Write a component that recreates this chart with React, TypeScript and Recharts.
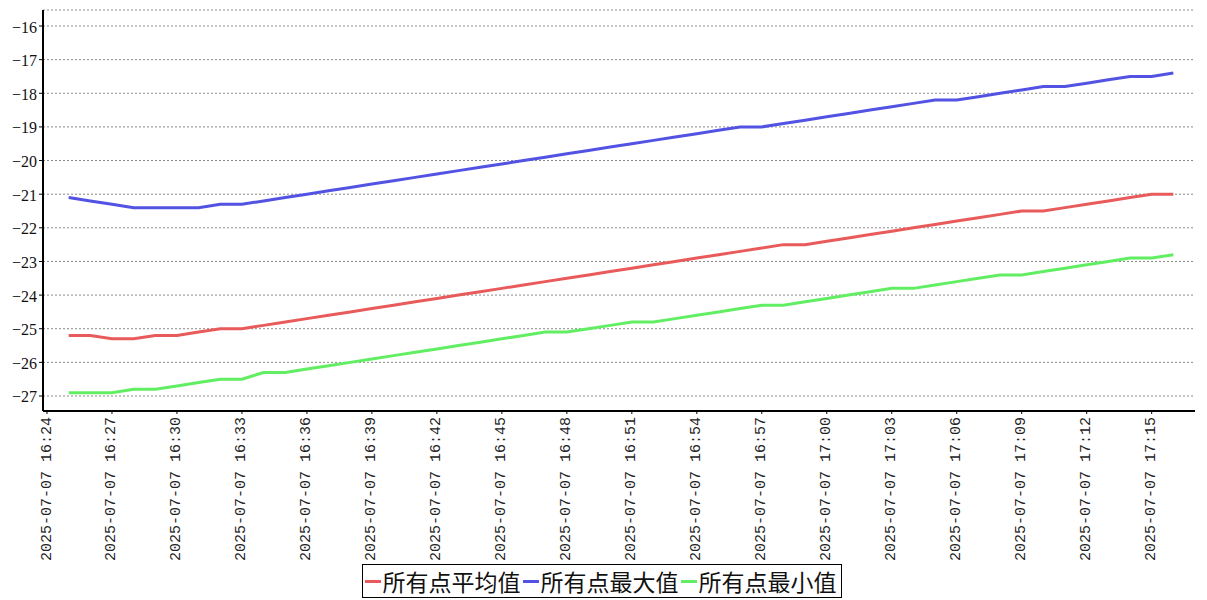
import React from "react";
import { LineChart, Line, XAxis, YAxis, CartesianGrid, Legend } from "recharts";

const DATE = "2025-07-07";
const times = [
  "16:25","16:26","16:27","16:28","16:29","16:30","16:31","16:32","16:33","16:34",
  "16:35","16:36","16:37","16:38","16:39","16:40","16:41","16:42","16:43","16:44",
  "16:45","16:46","16:47","16:48","16:49","16:50","16:51","16:52","16:53","16:54",
  "16:55","16:56","16:57","16:58","16:59","17:00","17:01","17:02","17:03","17:04",
  "17:05","17:06","17:07","17:08","17:09","17:10","17:11","17:12","17:13","17:14",
  "17:15","17:16",
];
const avgValues = [
  -25.2,-25.2,-25.3,-25.3,-25.2,-25.2,-25.1,-25.0,-25.0,-24.9,
  -24.8,-24.7,-24.6,-24.5,-24.4,-24.3,-24.2,-24.1,-24.0,-23.9,
  -23.8,-23.7,-23.6,-23.5,-23.4,-23.3,-23.2,-23.1,-23.0,-22.9,
  -22.8,-22.7,-22.6,-22.5,-22.5,-22.4,-22.3,-22.2,-22.1,-22.0,
  -21.9,-21.8,-21.7,-21.6,-21.5,-21.5,-21.4,-21.3,-21.2,-21.1,
  -21.0,-21.0,
];
const maxValues = [
  -21.1,-21.2,-21.3,-21.4,-21.4,-21.4,-21.4,-21.3,-21.3,-21.2,
  -21.1,-21.0,-20.9,-20.8,-20.7,-20.6,-20.5,-20.4,-20.3,-20.2,
  -20.1,-20.0,-19.9,-19.8,-19.7,-19.6,-19.5,-19.4,-19.3,-19.2,
  -19.1,-19.0,-19.0,-18.9,-18.8,-18.7,-18.6,-18.5,-18.4,-18.3,
  -18.2,-18.2,-18.1,-18.0,-17.9,-17.8,-17.8,-17.7,-17.6,-17.5,
  -17.5,-17.4,
];
const minValues = [
  -26.9,-26.9,-26.9,-26.8,-26.8,-26.7,-26.6,-26.5,-26.5,-26.3,
  -26.3,-26.2,-26.1,-26.0,-25.9,-25.8,-25.7,-25.6,-25.5,-25.4,
  -25.3,-25.2,-25.1,-25.1,-25.0,-24.9,-24.8,-24.8,-24.7,-24.6,
  -24.5,-24.4,-24.3,-24.3,-24.2,-24.1,-24.0,-23.9,-23.8,-23.8,
  -23.7,-23.6,-23.5,-23.4,-23.4,-23.3,-23.2,-23.1,-23.0,-22.9,
  -22.9,-22.8,
];
const tickTimes = [
  "16:24","16:27","16:30","16:33","16:36","16:39","16:42","16:45","16:48",
  "16:51","16:54","16:57","17:00","17:03","17:06","17:09","17:12","17:15",
];
const yTicks = [-16,-17,-18,-19,-20,-21,-22,-23,-24,-25,-26,-27];
const axisStart = "16:24";
const axisEnd = "17:17";

const series = [
  { key: "avg", name: "所有点平均值", color: "#e95b5b" },
  { key: "max", name: "所有点最大值", color: "#5353e3" },
  { key: "min", name: "所有点最小值", color: "#62ee62" },
];

const toMin = (t: string) => {
  const [h, m] = t.split(":").map(Number);
  return h * 60 + m;
};
const minToLabel: Record<number, string> = {};
tickTimes.forEach((t) => (minToLabel[toMin(t)] = `${DATE} ${t}`));

const data = times.map((t, i) => ({
  t: toMin(t),
  avg: avgValues[i],
  max: maxValues[i],
  min: minValues[i],
}));

const XTick = (props: any) => {
  const { x, y, payload } = props;
  const yy = y + 1;
  return (
    <text
      x={x}
      y={yy}
      transform={`rotate(-90 ${x} ${yy})`}
      textAnchor="end"
      dominantBaseline="central"
      style={{ fontFamily: "'Liberation Mono', monospace", fontSize: 15 }}
      fill="#222"
    >
      {minToLabel[payload.value]}
    </text>
  );
};

const YTick = (props: any) => {
  const { x, y, payload } = props;
  const v = payload.value as number;
  const label = v < 0 ? "\u2212" + Math.abs(v) : String(v);
  return (
    <text
      x={x}
      y={y + 1}
      textAnchor="end"
      dominantBaseline="central"
      style={{ fontFamily: "'Liberation Serif', serif", fontSize: 16 }}
      fill="#111"
    >
      {label}
    </text>
  );
};

const LegendBox = () => (
  <div style={{ display: "flex", justifyContent: "center", paddingLeft: 8 }}>
    <div
      style={{
        border: "1px solid #000",
        height: 32,
        display: "flex",
        alignItems: "center",
        padding: "0 2px",
        fontFamily: "'Noto Sans CJK SC'",
        fontSize: 23,
        color: "#111",
        lineHeight: "32px",
        background: "#fff",
      }}
    >
      {series.map((s) => (
        <div key={s.key} style={{ display: "flex", alignItems: "center", marginRight: 2 }}>
          <span
            style={{
              display: "inline-block",
              width: 16,
              height: 3,
              background: s.color,
              marginRight: 2,
            }}
          />
          <span>{s.name}</span>
        </div>
      ))}
    </div>
  </div>
);

export default function App() {
  return (
    <div style={{ position: "absolute", left: 0, top: 0, background: "#fff" }}>
      <LineChart
        width={1207}
        height={600}
        data={data}
        margin={{ top: 10, right: 12, left: 0, bottom: 2 }}
      >
        <CartesianGrid vertical={false} stroke="#888" strokeDasharray="2 2" />
        <XAxis
          dataKey="t"
          type="number"
          domain={[toMin(axisStart), toMin(axisEnd)]}
          ticks={tickTimes.map(toMin)}
          interval={0}
          padding={{ left: 4 }}
          height={153}
          tickSize={3}
          tick={<XTick />}
          axisLine={{ stroke: "#000", strokeWidth: 2 }}
          tickLine={{ stroke: "#000" }}
        />
        <YAxis
          width={43}
          domain={[-27.446, -15.524]}
          allowDataOverflow
          ticks={yTicks}
          interval={0}
          tickSize={4}
          tick={<YTick />}
          axisLine={{ stroke: "#000", strokeWidth: 2 }}
          tickLine={{ stroke: "#000" }}
        />
        <Legend verticalAlign="bottom" content={<LegendBox />} />
        {series.map((s) => (
          <Line
            key={s.key}
            type="linear"
            dataKey={s.key}
            name={s.name}
            stroke={s.color}
            strokeWidth={3}
            dot={false}
            activeDot={false}
            isAnimationActive={false}
          />
        ))}
      </LineChart>
    </div>
  );
}
